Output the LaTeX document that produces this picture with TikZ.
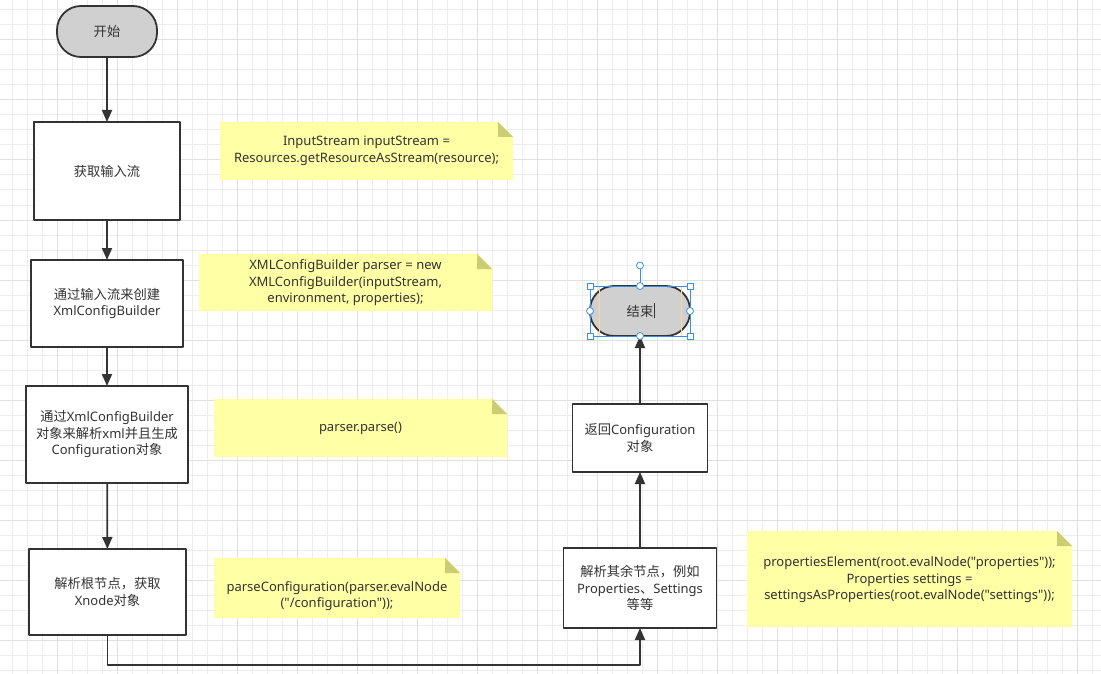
\documentclass[tikz,border=0pt]{standalone}
\usepackage{fontspec}
\setmainfont{Noto Sans}[Ligatures=TeXOff]
\newfontfamily\cjk[Scale=1.02]{Noto Sans CJK SC}
\usetikzlibrary{arrows.meta}
\definecolor{ink}{HTML}{333333}
\definecolor{termgray}{HTML}{D0D0D0}
\definecolor{memo}{HTML}{FFFFA6}
\definecolor{memofold}{HTML}{CCCC73}
\definecolor{gridfine}{HTML}{EDEDED}
\definecolor{gridbold}{HTML}{E0E0E0}
\definecolor{selblue}{HTML}{3A8EE6}
\definecolor{selorange}{HTML}{FFD699}
\newcommand{\zh}[1]{{\cjk #1}}
\tikzset{
  box/.style={draw=ink, line width=1.8pt, fill=white, text=ink, align=center, inner sep=0pt, outer sep=0pt},
  term/.style={box, fill=termgray, rounded corners=24pt, minimum width=100pt},
  memotext/.style={text=ink, align=center, inner sep=0pt},
  flow/.style={draw=ink, line width=1.8pt, -{Triangle[length=12pt,width=10pt]}},
  handle/.style={draw=selblue, fill=white, line width=0.8pt, inner sep=0pt, outer sep=0pt},
}
\begin{document}
\begin{tikzpicture}[x=1pt, y=-1pt, line join=round, font=\fontsize{13}{16.5}\selectfont]
  \def\W{1101}
  \def\H{674}
  \def\f{15}

  % background and grid
  \useasboundingbox (0,0) rectangle (\W,\H);
  \fill[white] (0,0) rectangle (\W,\H);
  \foreach \gx in {12.5,27.5,...,1100} \draw[gridfine, line width=1pt] (\gx,0) -- (\gx,\H);
  \foreach \gy in {10,25,...,673} \draw[gridfine, line width=1pt] (0,\gy) -- (\W,\gy);
  \foreach \gx in {57.5,117.5,...,1100} \draw[gridbold, line width=1pt] (\gx,0) -- (\gx,\H);
  \foreach \gy in {40,100,...,673} \draw[gridbold, line width=1pt] (0,\gy) -- (\W,\gy);

  % notes
  \foreach \xa/\ya/\xb/\yb in {220/122/513/180, 199/254/492/311, 214/399/507/457, 214/558/460/618, 747/531/1072/627}{
    \fill[memo] (\xa,\ya) -- ({\xb-\f},\ya) -- (\xb,{\ya+\f}) -- (\xb,\yb) -- (\xa,\yb) -- cycle;
    \fill[memofold] ({\xb-\f},\ya) -- ({\xb-\f},{\ya+\f}) -- (\xb,{\ya+\f}) -- cycle;
  }
  \node[memotext] (noteA) at (366.5,151) {InputStream inputStream =\\Resources.getResourceAsStream(resource);};
  \node[memotext] (noteB) at (345.5,283) {XMLConfigBuilder parser = new\\XMLConfigBuilder(inputStream,\\environment, properties);};
  \node[memotext] (noteC) at (360.5,428) {parser.parse()};
  \node[memotext] (noteD) at (337,596) {parseConfiguration(parser.evalNode\\("/configuration"));};
  \node[memotext] (noteE) at (909.5,580) {propertiesElement(root.evalNode("properties"));\\Properties settings =\\settingsAsProperties(root.evalNode("settings"));};

  % flow nodes
  \node[term, minimum height=51pt] (start) at (107,31.5) {\zh{开始}};
  \node[box, minimum width=146pt, minimum height=98pt] (read) at (107,171) {\zh{获取输入流}};
  \node[box, minimum width=152pt, minimum height=87pt] (create) at (107,303.5) {\zh{通过输入流来创建}\\XmlConfigBuilder};
  \node[box, minimum width=162pt, minimum height=97pt] (parse) at (107,434.5) {\zh{通过}XmlConfigBuilder\\\zh{对象来解析}xml\zh{并且生成}\\Configuration\zh{对象}};
  \node[box, minimum width=157pt, minimum height=86pt] (root) at (107.5,592) {\zh{解析根节点，获取}\\Xnode\zh{对象}};
  \node[box, minimum width=153pt, minimum height=80pt] (rest) at (640,588) {\zh{解析其余节点，例如}\\Properties\zh{、}Settings\\\zh{等等}};
  \node[box, minimum width=135pt, minimum height=68pt] (ret) at (640,438) {\zh{返回}Configuration\\\zh{对象}};
  \node[term, minimum height=50pt] (finish) at (640,311) {\zh{结束}};

  % connectors
  \draw[flow] (start) -- (read);
  \draw[flow] (read) -- (create);
  \draw[flow] (create) -- (parse);
  \draw[flow] (parse) -- (root);
  \draw[flow] (root.south) -- ++(0,30) -| (rest.south);
  \draw[flow] (rest) -- (ret);
  \draw[flow] (ret) -- (finish);

  % selection of the end node
  \draw[selorange, line width=1pt] (599,286) rectangle (681,336);
  \draw[selblue, line width=0.5pt] (finish.north west) rectangle (finish.south east);
  \draw[ink, line width=0.8pt] (654,303) -- (654,318);
  \node[handle, circle, minimum size=7pt] (rot) at (640,265.5) {};
  \draw[selblue, line width=0.8pt] (rot) -- (finish.north);
  \foreach \a in {north west, north east, south west, south east}
    \node[handle, minimum size=6pt] at (finish.\a) {};
  \foreach \a in {north, south, east, west}
    \node[handle, circle, minimum size=7pt] at (finish.\a) {};
\end{tikzpicture}
\end{document}
